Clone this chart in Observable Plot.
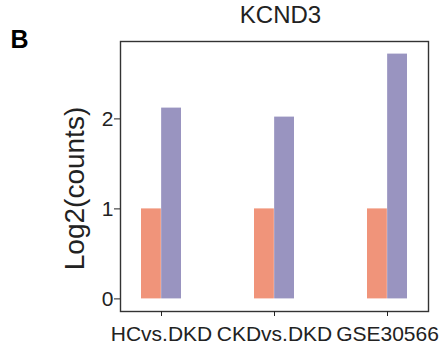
<!DOCTYPE html>
<html>
<head>
<meta charset="utf-8">
<script src="https://cdn.jsdelivr.net/npm/d3@7"></script>
<script src="https://cdn.jsdelivr.net/npm/@observablehq/plot@0.6"></script>
<style>
  html, body { margin: 0; padding: 0; background: #fff; }
  svg { font-family: "Liberation Sans", Arial, sans-serif; }
</style>
</head>
<body>
<div id="chart"></div>
<script>
const groups = ["HCvs.DKD", "CKDvs.DKD", "GSE30566"];
const seriesA = [1, 1, 1];          // orange
const seriesB = [2.12, 2.02, 2.72]; // purple
const yTicks = [0, 1, 2];
const title = "KCND3";
const panelLetter = "B";
const yLabel = "Log2(counts)";

const rowsA = groups.map((g, i) => ({group: g, value: seriesA[i]}));
const rowsB = groups.map((g, i) => ({group: g, value: seriesB[i]}));

const orange = "#F0947A";
const purple = "#9994C0";
const ink = "#222";

const chart = Plot.plot({
  width: 446,
  height: 349,
  marginLeft: 120,
  marginRight: 18,
  marginTop: 41,
  marginBottom: 38,
  style: {fontFamily: "'Liberation Sans', Arial, sans-serif", background: "#fff"},
  x: {domain: groups, paddingInner: 0.646, paddingOuter: 0.177, axis: null},
  y: {domain: [-0.14, 2.86], axis: null},
  marks: [
    Plot.barY(rowsA, {x: "group", y1: 0, y2: "value", fill: orange, insetRight: 20.15}),
    Plot.barY(rowsB, {x: "group", y1: 0, y2: "value", fill: purple, insetLeft: 20.15}),
    Plot.frame({stroke: "#333", strokeWidth: 1.4}),
    Plot.axisY({ticks: yTicks, tickSize: 6, tickPadding: 1, fontSize: 21, label: null, stroke: ink, color: ink, tickFormat: d3.format("d")}),
    Plot.axisX({tickSize: 5, tickPadding: 10, fontSize: 21, label: null, stroke: ink, color: ink}),
    Plot.text([yLabel], {frameAnchor: "left", textAnchor: "middle", lineAnchor: "middle", dx: -45, dy: 12, rotate: -90, text: d => d, fontSize: 28, fill: ink}),
    Plot.text([title], {frameAnchor: "top", textAnchor: "middle", lineAnchor: "top", dx: 6, dy: -35.5, text: d => d, fontSize: 24, fill: ink}),
    Plot.text([panelLetter], {frameAnchor: "top-left", textAnchor: "start", lineAnchor: "top", dx: -110, dy: -11, text: d => d, fontSize: 25, fontWeight: "bold", fill: "#000"})
  ]
});
document.getElementById("chart").appendChild(chart);
</script>
</body>
</html>
